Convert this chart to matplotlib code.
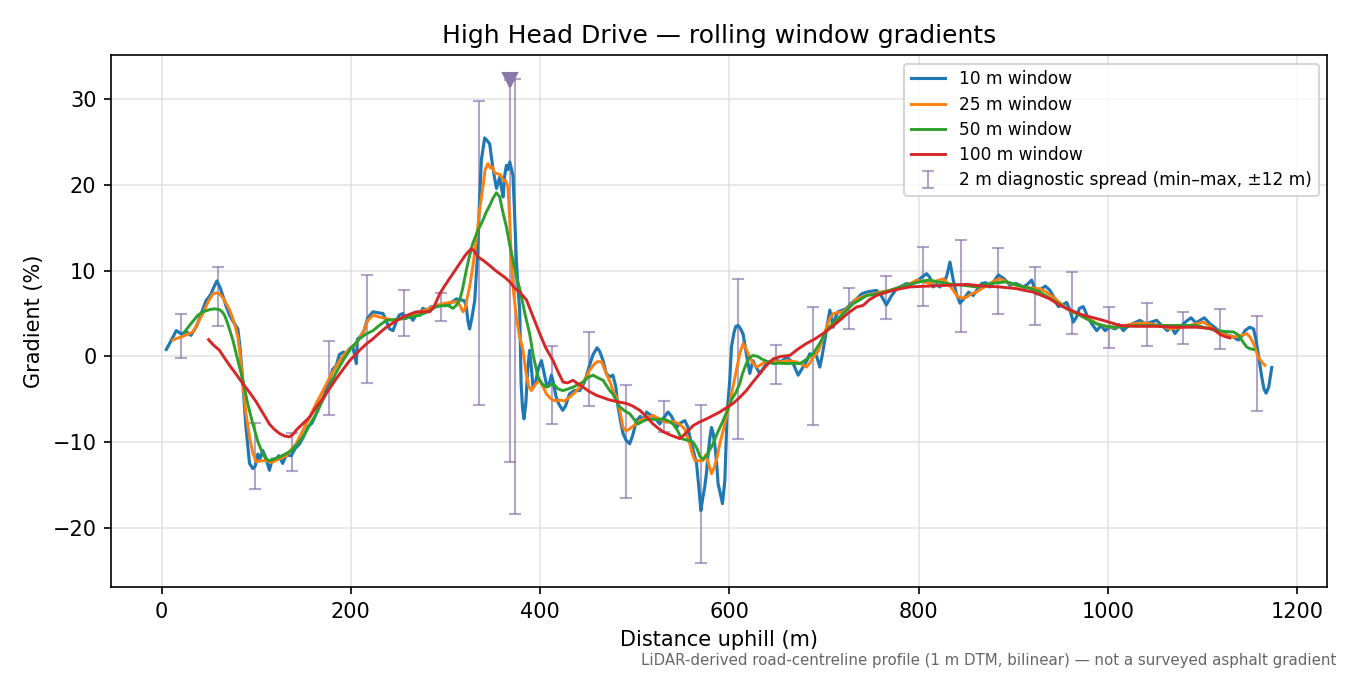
import numpy as np
import matplotlib
matplotlib.use("Agg")
import matplotlib.pyplot as plt

# ---- 10 m window ----
w10_x = [5,10,15.5,21,26,31,37,42,47,52,55,58.5,62,65,68.4,72,76,80.7,83,86,89,93,96.5,99,101.8,104,107,110,114,117,121,124,128,132,137,141,146,150,155,159,163.5,168,172,177.6,181,184.7,188,192,195,198.8,202,205.9,207,210,214,218,223.5,228,234,238,241,244.6,248,251,255,258,262,265.7,270,273,276,281,285,290,295,300,304.5,308,311.6,316,320,322,324,325.6,328,331,334,336,338,341.5,344,346.8,350,352,354,357.4,359,361,362.5,364.5,366,368,369.5,371.4,373,375,377,378.5,380,381.5,383,385,387,389,391,392.6,395,398,401.5,404,406.7,409,412,414,417,420,424,427,431,436,442,447,452.5,456,460.3,463,466.6,470,473.7,477,480,482.4,485,487.7,491,494.8,498,501.9,506,509,512.5,516,520,523,526.5,530,535.3,539,544.2,548,553,556,558.3,562,565.4,568,570,572,574,576,577.6,579.5,581.2,583,585,587,588.2,590.5,592.8,595.3,597.7,600.5,602.3,605,607,609.4,612,614.6,618,621.7,625,628,632.3,636,639.3,644,650,655,660.5,664,667.5,672.8,678,682,685,692,695.7,698,701,704,706.3,709.8,712,715,720,724,729,734.5,740,745,750,755.6,760,766,771,776.8,782,787.3,792,797.9,803,808.5,812,815.5,819,822.6,826,829.6,833.2,836.7,840,843.8,849,853,857.8,862,866.7,871,875.4,880,884.3,890,896.6,903,910.7,915,919.5,924.8,930,934,938.9,943,947.7,952,956.5,960,963.6,967,970,974.1,978,983,988.2,993,997,1002.3,1008,1012,1016.4,1022,1028,1034,1040,1046,1051.7,1057,1063,1067,1071,1076,1082,1088,1093,1097.5,1102,1108,1115,1120,1126,1132,1138,1142,1145,1150,1154,1156.5,1159,1162.7,1165,1167.3,1170,1173.3]
w10_y = [0.8,1.8,3.0,2.6,2.9,2.45,3.5,5.0,6.5,7.2,8.0,8.8,8.0,7.0,5.8,4.8,4.0,3.2,1.0,-3.2,-8.0,-12.5,-13.1,-12.8,-11.4,-12.0,-11.0,-11.8,-13.3,-12.0,-12.0,-11.6,-12.5,-11.5,-11.6,-10.8,-10.2,-9.4,-8.2,-7.8,-6.7,-5.5,-4.5,-2.8,-1.5,-1.05,0.2,0.5,0.3,0.9,1.2,-0.85,2.0,2.3,3.0,4.5,5.2,5.1,5.0,4.0,3.2,3.0,4.0,4.8,5.0,4.4,4.8,4.2,5.0,4.8,5.6,5.4,5.8,5.8,6.0,5.9,6.15,6.4,6.7,6.6,6.5,5.8,4.0,3.2,4.5,6.5,12,18,22.9,25.5,25.2,24.8,22.1,20.8,19.6,20.9,19.8,18.6,21,22.3,21.8,22.7,22.0,21.1,17,11.2,7.5,5.4,-3.2,-6,-7.3,-5.5,-1.5,0.7,-1.5,-3.6,-3.2,-1.5,-0.5,-1.8,-3.2,-3.5,-2.2,-3.0,-4.75,-5.6,-6.3,-5.8,-4.4,-4.0,-4.0,-3.0,-1.0,0.2,1.0,0.6,-0.5,-2.0,-2.4,-2.2,-3.5,-5.9,-7.5,-9.0,-9.8,-10.2,-9.2,-7.5,-7.0,-7.5,-6.5,-6.8,-7.0,-7.4,-7.9,-7.3,-6.5,-7.0,-8.3,-7.8,-7.5,-8.2,-9.4,-11.0,-12.5,-15.5,-18.0,-16.5,-15.3,-13.5,-11.4,-9.5,-8.3,-9.0,-10.6,-13.0,-14.9,-16.0,-17.2,-14.5,-6.7,-2.8,1.1,2.8,3.5,3.6,3.2,2.6,0.3,-2.0,-0.5,-1.2,-2.0,-1.4,-0.85,-0.7,-0.5,-0.6,-0.1,-0.4,-0.85,-2.2,-1.25,-0.5,0.3,0.1,-1.25,0.0,1.9,4.0,5.4,3.4,4.5,5.2,5.4,5.6,6.2,6.7,7.3,7.5,7.6,7.7,7.2,6.0,7.0,7.9,8.2,8.5,8.4,8.7,9.2,9.65,9.2,8.1,8.4,8.1,8.6,9.3,11.0,8.9,7.3,6.2,6.9,7.5,7.1,7.8,8.5,8.6,8.1,8.8,9.5,9.1,8.3,8.5,8.1,8.4,8.9,7.3,7.9,8.2,7.7,6.9,5.8,6.0,6.3,5.4,4.0,4.6,5.6,5.8,4.8,3.8,3.0,3.6,3.0,3.4,3.2,3.7,3.0,3.6,3.9,4.2,3.8,4.0,4.2,3.6,3.0,3.5,2.65,3.4,4.0,4.5,3.9,4.2,4.5,3.8,3.2,2.7,2.5,2.3,1.9,2.4,3.0,3.4,3.2,2.0,0.3,-2.4,-3.8,-4.3,-3.6,-1.3]

# ---- 25 m window ----
w25_x = [12,16,20.8,26,33,38,43.7,49,54.3,58,61.3,65,68.4,72,75.4,78,80.7,83,86,89,93,96.5,100,105,110.7,116,121,126,131.8,137,142.4,149,156.5,163,170.6,179,188.2,196,205.9,209,214,218,223.5,230,237.6,245,255,263,272.8,281,290.4,300,305,311.6,315,318.6,321,323,325.6,329,332.7,336,339.7,342,345,347.5,350,352,355.5,358,361,363.5,366,368,369.7,372,375,378,382,385,388,391,395,399.7,403,406.7,412,416,420.8,426,431.4,437,442,447,452.5,457.8,461,465,470,474,477,480.7,484.2,487.7,491,494.8,500,505.4,512,519.5,526,533.6,540,547.7,553,558.3,561,563.6,568,572.3,575,578,581.2,584,587,590,595,600.5,604,607.6,611,614.6,618,621.7,625,628.8,633,637.6,645,653.4,662,671,676,681.5,685,688.6,694,698,702.8,706,710,715,720,727,734.5,742,752,760,770,779,787,793,798,805,812,819,826,831,836.7,841,846,850.7,856,861,868,875.4,880,886,891,896.6,903,910.7,918,928,935,942.4,950,956.5,964,974,983,989,995,1002,1009,1018,1027,1036,1045,1055,1066,1073,1080,1090,1101,1108,1115,1124,1132.8,1140,1146.7,1150,1154,1159,1163,1166]
w25_y = [1.9,2.1,2.25,2.5,2.85,3.8,5.0,6.3,7.3,7.4,7.3,6.8,6.15,5.4,4.4,3.4,2.25,0.2,-3.2,-6.5,-9.4,-11.3,-12.3,-12.2,-12.15,-12.4,-12.15,-11.9,-11.6,-10.9,-10.2,-8.7,-7.1,-5.6,-4.0,-2.2,-0.5,0.6,1.5,2.05,3.0,4.2,4.8,4.6,4.4,4.2,4.4,4.8,5.2,5.5,5.95,6.2,6.3,6.35,6.0,5.2,5.6,6.8,8.1,10.5,13.55,17,19.8,21.8,22.5,22.0,22.1,21.4,21.3,21.2,20.6,20.5,19.8,16,11.2,7.5,4.6,2.5,0.7,-1.8,-3.5,-4.0,-3.3,-2.8,-3.5,-4.4,-5.0,-5.2,-5.1,-5.2,-4.75,-4.2,-3.6,-2.8,-1.6,-0.85,-0.6,-0.65,-2.0,-3.0,-4.0,-4.75,-6.3,-8.3,-8.7,-8.45,-8.0,-7.5,-7.2,-6.9,-7.3,-7.7,-7.6,-7.9,-8.5,-10.2,-11.4,-12.15,-12.2,-12.15,-11.5,-12.5,-13.7,-13.0,-11.8,-10.2,-8.0,-5.5,-3.5,-1.6,0.3,1.5,0.8,-0.1,-0.8,-1.25,-1.0,-0.65,-0.6,-0.65,-0.5,-0.65,-0.9,-1.25,-0.8,-0.1,0.6,1.8,3.4,4.4,5.0,5.1,5.2,5.8,6.7,7.0,7.3,7.5,7.7,8.0,8.3,8.6,8.9,8.7,8.5,8.8,9.05,8.5,7.7,7.0,6.8,6.9,7.3,7.5,8.0,8.5,8.8,9.05,8.8,8.5,8.3,8.1,8.0,7.9,7.5,6.9,6.2,5.6,5.1,4.8,4.2,3.8,3.6,3.4,3.4,3.6,3.8,3.9,3.8,3.6,3.2,3.3,3.4,3.7,4.0,3.5,2.85,2.5,2.25,2.4,2.65,2.3,1.5,-0.1,-0.7,-1.05]

# ---- 50 m window ----
w50_x = [24.3,31,38.4,44,50.7,56,61.3,64,66.6,70,75.4,80,86,91,96.5,102,107,110,114,119,124.6,131,137,143,149.4,156,163.5,170,177.6,184,191.7,200,209.3,216,223.5,230,237.6,246,255,264,272.8,281,290.4,296,302.7,305,308,311,315,318,322,325,329,334,339.7,343,346.8,350,353.9,357.4,360,364.5,368,371.4,375,378.5,384,389,393,397.9,402,406.7,410,413.8,419,424.3,430,434.9,440,445.5,450,456,461,466.6,473.7,477,484.2,490,494.8,499,503.6,510,516,523,530,535,540.6,545,549.5,556,561.7,566,569,572.3,576,579,582.9,588,593.5,598,602.3,607,611,614,618,621,625,630,634,640,646.3,653,660.5,667,674.5,681,688.6,696,702.8,709,716.7,724,731,738,745,752,760,769.7,778,787,798,805,812,820,829.6,838,847.2,854,861.3,868,875.4,884,893.1,902,910.7,919,928,937,945.9,956,967,977,988,998,1009,1020,1030,1041,1051.7,1062,1072.8,1083,1094,1105,1115,1124,1132.8,1138,1141.5,1146.7,1150,1154]
w50_y = [2.85,3.8,4.8,5.2,5.45,5.55,5.45,5.2,4.8,3.8,1.9,-0.2,-2.8,-5.5,-7.9,-10.0,-11.4,-11.9,-12.2,-12.0,-11.75,-11.4,-11.0,-10.3,-9.4,-8.1,-6.7,-5.2,-3.6,-2.0,-0.5,0.9,2.05,2.6,3.0,3.6,4.2,4.3,4.4,4.6,4.8,5.2,5.8,5.9,5.95,5.8,5.6,5.9,6.5,7.8,10.0,11.5,13.2,14.6,15.9,16.8,17.6,18.4,19.1,18.6,17.2,15.1,13.0,11.2,9.3,7.9,5.0,2.65,0.0,-2.4,-3.2,-3.6,-3.4,-3.2,-3.8,-4.0,-3.8,-3.6,-3.3,-3.0,-2.5,-2.2,-2.5,-2.8,-4.0,-4.4,-5.9,-6.4,-6.7,-7.3,-7.9,-7.5,-7.3,-7.4,-7.3,-7.5,-7.9,-8.6,-9.6,-9.8,-10.0,-10.8,-11.7,-12.0,-11.6,-11.0,-10.2,-8.8,-7.5,-6.3,-5.1,-4.2,-3.2,-2.0,-0.85,-0.2,0.1,0.0,-0.3,-0.6,-0.85,-0.8,-0.85,-0.8,-0.85,-0.4,0.3,1.6,3.0,3.8,4.6,5.4,6.15,6.6,7.1,7.2,7.4,7.7,8.0,8.3,8.6,8.8,8.9,8.7,8.5,8.4,8.3,8.2,8.1,8.3,8.5,8.6,8.7,8.4,8.1,7.9,7.5,6.9,6.3,5.6,5.0,4.4,3.8,3.5,3.4,3.5,3.6,3.6,3.6,3.6,3.6,3.6,3.6,3.3,3.0,2.9,2.85,2.5,1.9,1.1,0.9,0.8]

# ---- 100 m window ----
w100_x = [49.7,55,61.3,66,71.9,79,86,93,100,107,114,119,124.6,130,135.3,139,142.4,149,156.5,163,170.6,178,184.7,192,198.8,204,209.3,216,223.5,230,237.6,246,255,262,269.3,276,283.4,288,294,299,304.5,310,315,321,327.5,331,334.4,340,346.8,352,357.4,363,368,373,378.5,385.6,392,399.7,406,413.8,419,424.3,429,434.9,440,445.5,452,459.6,466,473.7,482,491.3,498,505.4,512,519.5,525,530,538,547.7,553,561.7,568,575.9,583,590,597,604,611,618,625,632.3,639,646.3,655,664,672,681.5,690,699,708,716.7,725,734.5,741.5,748,755.6,764,773,781,790.9,800,812,822,833,842,850.7,859,868.3,877,886,895,903.6,912,921.2,930,938.9,947,956.5,965,974,985,995,1004,1012.9,1021,1030,1041,1051.7,1062,1072.8,1083,1094,1103,1111.6,1115,1118.7,1124,1129]
w100_y = [1.95,1.3,0.7,-0.1,-1.05,-2.1,-3.2,-4.2,-5.3,-6.6,-7.9,-8.5,-9.0,-9.3,-9.4,-9.1,-8.6,-7.9,-7.1,-6.0,-4.9,-3.7,-2.6,-1.5,-0.5,0.1,0.7,1.4,2.05,2.7,3.4,4.0,4.6,4.9,5.2,5.2,5.2,5.8,7.3,8.2,9.1,10.0,10.8,11.8,12.6,12.2,11.6,11.2,10.6,10.1,9.65,9.2,8.7,8.0,7.5,6.6,4.8,2.65,1.0,-0.5,-1.8,-3.0,-3.1,-2.8,-3.2,-3.6,-4.1,-4.55,-4.8,-5.1,-5.3,-5.5,-5.8,-6.3,-7.0,-7.9,-8.4,-8.8,-9.2,-9.6,-9.1,-8.1,-7.7,-7.3,-6.9,-6.5,-6.0,-5.5,-4.8,-4.0,-3.0,-2.0,-1.1,-0.3,0.0,0.1,0.8,1.5,2.0,2.65,3.4,4.2,5.0,5.75,5.95,6.6,7.1,7.4,7.7,7.9,8.1,8.15,8.2,8.25,8.3,8.35,8.4,8.3,8.2,8.15,8.1,8.0,7.9,7.7,7.5,7.1,6.7,6.1,5.6,5.2,4.8,4.5,4.2,3.9,3.6,3.55,3.5,3.5,3.5,3.45,3.4,3.4,3.4,3.3,3.2,2.9,2.55,2.3,2.15]

# ---- 2 m diagnostic spread (min-max within +/-12 m) ----
spread_x = [21,60,99,138,177,217,256,295,335,368,374,413,452,491,531,570,609,649,688,727,766,805,845,884,923,962,1001,1041,1080,1119,1158]
spread_lo = [-0.2,3.5,-15.5,-13.4,-6.85,-3.1,2.4,4.1,-5.7,-12.35,-18.45,-7.95,-5.8,-16.5,-8.85,-24.1,-9.7,-3.2,-8.0,3.2,4.35,5.9,2.85,4.95,3.6,2.6,0.97,1.2,1.45,0.85,-6.4]
spread_hi = [5.0,10.4,-7.8,-8.95,1.8,9.45,7.8,7.4,29.8,32.3,32.35,1.15,2.85,-3.3,-5.25,-5.65,9.0,1.35,5.75,8.0,9.4,12.75,13.55,12.65,10.45,9.8,5.75,6.2,5.2,5.5,4.7]
peak_x = [368]
peak_y = [32.3]

fig = plt.figure(figsize=(9, 4.5), dpi=150)
ax = fig.add_axes([0.0822, 0.1304, 0.9008, 0.7881])

lo = np.array(spread_lo)
hi = np.array(spread_hi)
mid = (lo + hi) / 2
eb = ax.errorbar(spread_x, mid, yerr=[mid - lo, hi - mid], fmt='none',
                 ecolor='#7f6aa8', alpha=0.6, elinewidth=1.0, capsize=3,
                 capthick=1.0, zorder=1)

l10, = ax.plot(w10_x, w10_y, color='tab:blue', lw=1.5, zorder=3)
l25, = ax.plot(w25_x, w25_y, color='tab:orange', lw=1.4, zorder=4)
l50, = ax.plot(w50_x, w50_y, color='tab:green', lw=1.4, zorder=5)
l100, = ax.plot(w100_x, w100_y, color='tab:red', lw=1.4, zorder=6)
ax.plot(peak_x, peak_y, marker='v', color='#8a78ad', ms=7, ls='none', zorder=7)

ax.grid(True, color='#dddddd', lw=0.8, alpha=0.8)
ax.set_axisbelow(True)
ax.set_title('High Head Drive \u2014 rolling window gradients', fontsize=12)
ax.set_xlabel('Distance uphill (m)', fontsize=10)
ax.set_ylabel('Gradient (%)', fontsize=10)

ax.legend([l10, l25, l50, l100, eb],
          ['10 m window', '25 m window', '50 m window', '100 m window',
           '2 m diagnostic spread (min\u2013max, \u00b112 m)'],
          loc='upper right', fontsize=8.2, labelspacing=0.42)

fig.text(0.99, 0.022, 'LiDAR-derived road-centreline profile (1 m DTM, bilinear) \u2014 not a surveyed asphalt gradient',
         ha='right', va='center', fontsize=7.2, color='#666666')

fig.savefig('out.png', dpi=150)
